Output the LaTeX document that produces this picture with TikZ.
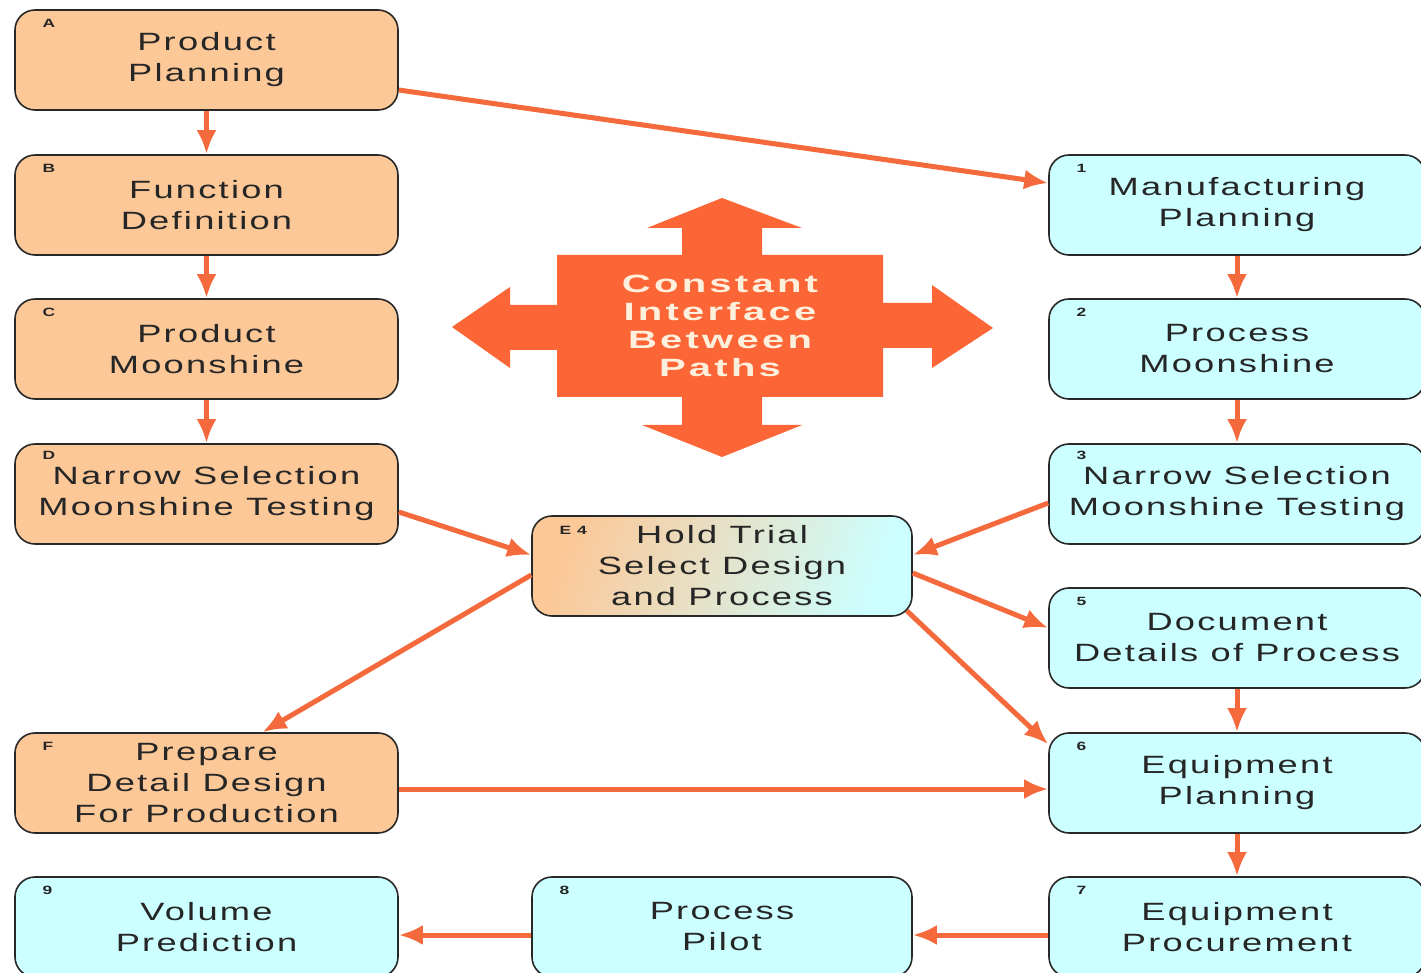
\documentclass[tikz,border=0pt]{standalone}
\usepackage{fontspec}
\setmainfont{Liberation Sans}[FakeStretch=1.45,LetterSpace=9]
\newfontfamily\crossfont{Liberation Sans}[FakeStretch=1.6,LetterSpace=13]
\usetikzlibrary{arrows.meta,calc}

\definecolor{peach}{RGB}{252,200,152}
\definecolor{aqua}{RGB}{204,255,255}
\definecolor{flow}{RGB}{244,106,60}
\definecolor{crossorange}{RGB}{252,102,54}
\definecolor{crosstext}{RGB}{255,240,222}
\definecolor{edge}{RGB}{40,40,40}

\tikzset{
  stage/.style={draw=edge, line width=0.8pt, rounded corners=10pt,
    minimum height=50pt, inner sep=0pt, align=center, text=black!85,
    font=\fontsize{12.5}{15.5}\selectfont},
  prod/.style={stage, fill=peach, minimum width=191.5pt},
  manu/.style={stage, fill=aqua, minimum width=188pt},
  mid/.style={stage, minimum width=190pt},
  tag/.style={anchor=base west, inner sep=0pt, text=black!85,
    font=\bfseries\fontsize{6}{6}\selectfont},
  flowarrow/.style={draw=flow, line width=2.5pt,
    -{Latex[length=12pt,width=10pt]}},
}

\begin{document}
\begin{tikzpicture}[x=0.5pt, y=-0.5pt]
  \useasboundingbox (0,0) rectangle (1421,973);
  \clip (0,0) rectangle (1421,973);
  \fill[white] (0,0) rectangle (1421,973);

  % product path (left column)
  \node[prod] (A) at (206.5,60)  {Product\\Planning};
  \node[prod] (B) at (206.5,205) {Function\\Definition};
  \node[prod] (C) at (206.5,349) {Product\\Moonshine};
  \node[prod] (D) at (206.5,494) {Narrow Selection\\Moonshine Testing};
  \node[prod] (F) at (206.5,783) {Prepare\\Detail Design\\For Production};

  % manufacturing path (right column)
  \node[manu] (M1) at (1237,205) {Manufacturing\\Planning};
  \node[manu] (M2) at (1237,349) {Process\\Moonshine};
  \node[manu] (M3) at (1237,494) {Narrow Selection\\Moonshine Testing};
  \node[manu] (M5) at (1237,638) {Document\\Details of Process};
  \node[manu] (M6) at (1237,783) {Equipment\\Planning};
  \node[manu] (M7) at (1237,927) {Equipment\\Procurement};

  % joint trial and bottom row
  \node[mid, left color=peach, right color=aqua, shading angle=70] (E)
    at (722,566) {Hold Trial\\Select Design\\and Process};
  \node[manu, minimum width=190pt] (M8) at (722,927) {Process\\Pilot};
  \node[manu, minimum width=191.5pt] (M9) at (206.5,927) {Volume\\Prediction};

  % step tags
  \node[tag] (tA) at ([xshift=14pt,yshift=-9pt]A.north west) {A};
  \node[tag] (tB) at ([xshift=14pt,yshift=-9pt]B.north west) {B};
  \node[tag] (tC) at ([xshift=14pt,yshift=-9pt]C.north west) {C};
  \node[tag] (tD) at ([xshift=14pt,yshift=-8pt]D.north west) {D};
  \node[tag] (tF) at ([xshift=14pt,yshift=-9pt]F.north west) {F};
  \node[tag] (t1) at ([xshift=14pt,yshift=-9pt]M1.north west) {1};
  \node[tag] (t2) at ([xshift=14pt,yshift=-9pt]M2.north west) {2};
  \node[tag] (t3) at ([xshift=14pt,yshift=-8pt]M3.north west) {3};
  \node[tag] (t5) at ([xshift=14pt,yshift=-9pt]M5.north west) {5};
  \node[tag] (t6) at ([xshift=14pt,yshift=-9pt]M6.north west) {6};
  \node[tag] (t7) at ([xshift=14pt,yshift=-9pt]M7.north west) {7};
  \node[tag] (t8) at ([xshift=14pt,yshift=-9pt]M8.north west) {8};
  \node[tag] (t9) at ([xshift=14pt,yshift=-9pt]M9.north west) {9};
  \node[tag] (tE) at ([xshift=14pt,yshift=-9.5pt]E.north west) {E 4};

  % four-way interface arrow
  \fill[crossorange]
    (557,255) -- (682,255) -- (682,228) -- (647,228) -- (722,198)
    -- (802,228) -- (762,228) -- (762,255) -- (883,255) -- (883,303)
    -- (932,303) -- (932,285) -- (993,328) -- (932,368) -- (932,348)
    -- (883,348) -- (883,397) -- (762,397) -- (762,425) -- (802,425)
    -- (722,457) -- (642,425) -- (682,425) -- (682,397) -- (557,397)
    -- (557,350) -- (510,350) -- (510,368) -- (452,327) -- (510,287)
    -- (510,305) -- (557,305) -- cycle;
  \node[font=\crossfont\bfseries\fontsize{12.5}{14}\selectfont,
        text=crosstext, align=center, inner sep=0pt] (cross)
    at (720,326) {Constant\\Interface\\Between\\Paths};

  % connectors
  \draw[flowarrow] (A.south) -- (B.north);
  \draw[flowarrow] (B.south) -- (C.north);
  \draw[flowarrow] (C.south) -- (D.north);
  \draw[flowarrow] ([yshift=-15pt]A.east) -- ([yshift=11pt]M1.west);
  \draw[flowarrow] (M1.south) -- (M2.north);
  \draw[flowarrow] (M2.south) -- (M3.north);
  \draw[flowarrow] (M5.south) -- (M6.north);
  \draw[flowarrow] (M6.south) -- (M7.north);
  \draw[flowarrow] ([yshift=-9pt]D.east) -- ([yshift=5.5pt]E.west);
  \draw[flowarrow] ([yshift=-4.5pt]M3.west) -- ([yshift=5.5pt]E.east);
  \draw[flowarrow] ([yshift=-3.5pt]E.east) -- ([yshift=5pt]M5.west);
  \draw[flowarrow] ([xshift=-3pt,yshift=3pt]E.south east) -- ([yshift=-6pt]M6.north west);
  \draw[flowarrow] ([yshift=-4.5pt]E.west) -- ([xshift=28pt]F.north);
  \draw[flowarrow] ([yshift=-3pt]F.east) -- ([yshift=-3pt]M6.west);
  \draw[flowarrow] ([yshift=-4pt]M7.west) -- ([yshift=-4pt]M8.east);
  \draw[flowarrow] ([yshift=-4pt]M8.west) -- ([yshift=-4pt]M9.east);
\end{tikzpicture}
\end{document}
